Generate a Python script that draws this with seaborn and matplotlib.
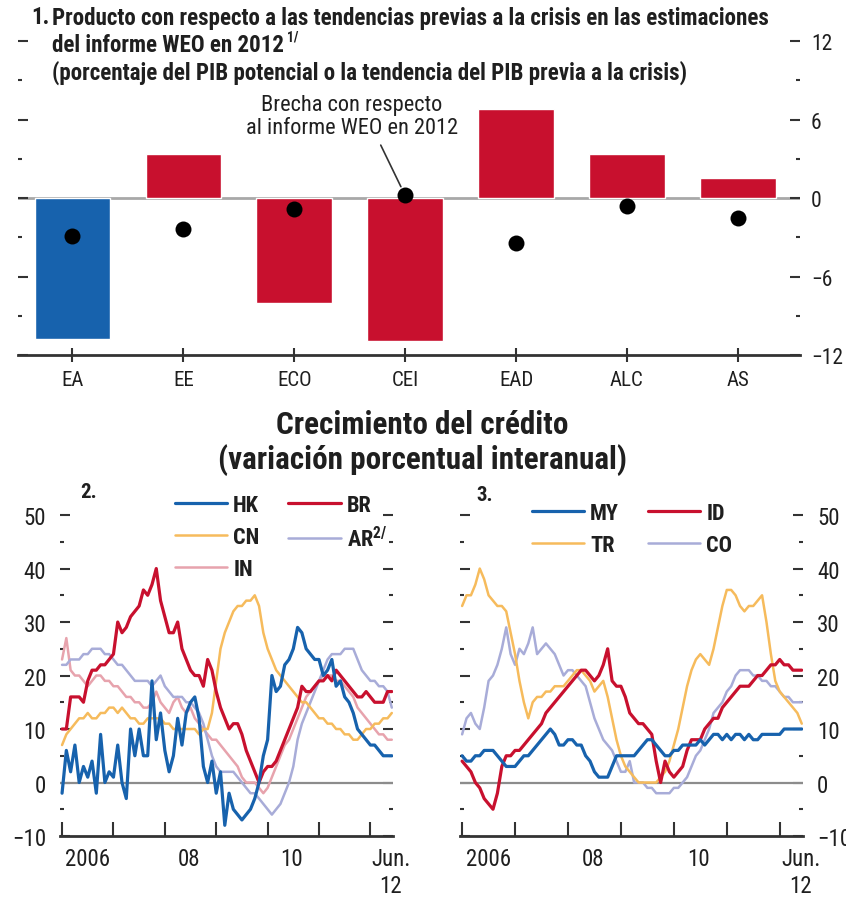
import numpy as np
import pandas as pd
import matplotlib
matplotlib.use("Agg")
import matplotlib.pyplot as plt
from matplotlib import font_manager as fm
from matplotlib.lines import Line2D
from matplotlib.ticker import MultipleLocator, FixedLocator, FixedFormatter, NullFormatter
import seaborn as sns

# ---------------- data ----------------
regions = ["EA", "EE", "ECO", "CEI", "EAD", "ALC", "AS"]
output_vs_trend = [-10.8, 3.4, -8.0, -10.9, 6.8, 3.4, 1.5]
gap_vs_weo2012 = [-2.9, -2.4, -0.8, 0.2, -3.4, -0.6, -1.5]

# monthly credit growth, Jan 2006 - Jun 2012
HK = [-2, 6, 2, 7, 0, 3, 1, 4, -2, 9, 0, 2,
      1, 7, 0, -3, 10, 5, 10, 5, 5, 19, 8, 13,
      6, 2, 5, 12, 7, 13, 15, 16, 12, 3, 0, 4,
      -2, 2, -8, -2, -5, -6, -7, -6, -5, -3, 0, 5,
      8, 20, 17, 18, 22, 23, 25, 29, 28, 25, 24, 23,
      23, 20, 21, 23, 18, 19, 16, 15, 13, 10, 9, 8,
      7, 7, 6, 5, 5, 5]
BR = [10, 10, 16, 16, 16, 15, 19, 21, 21, 22, 22, 23,
      24, 30, 28, 29, 31, 32, 33, 36, 35, 37, 40, 34,
      31, 28, 28, 30, 25, 23, 21, 20, 20, 18, 23, 21,
      17, 14, 12, 10, 11, 11, 9, 6, 4, 2, 0, 2,
      3, 3, 4, 6, 8, 10, 12, 14, 18, 17, 17, 18,
      19, 19, 20, 19, 21, 20, 19, 18, 17, 16, 16, 17,
      16, 15, 15, 15, 17, 17]
CN = [7, 9, 10, 11, 12, 12, 13, 12, 12, 13, 13, 14,
      14, 13, 14, 13, 12, 12, 11, 11, 12, 12, 12, 12,
      11, 11, 10, 10, 10, 10, 10, 10, 9, 10, 10, 13,
      19, 25, 28, 30, 32, 33, 33, 34, 34, 35, 33, 28,
      25, 23, 21, 20, 19, 18, 17, 16, 15, 15, 14, 13,
      12, 12, 11, 11, 10, 10, 9, 9, 8, 8, 9, 10,
      10, 11, 11, 12, 12, 13]
AR = [22, 22, 23, 23, 23, 24, 24, 25, 25, 25, 24, 24,
      23, 22, 22, 21, 20, 19, 19, 19, 19, 18, 19, 20,
      18, 17, 16, 16, 16, 15, 15, 14, 13, 11, 8, 5,
      3, 2, 2, 2, 2, 1, 0, -1, -2, -2, -3, -4,
      -5, -6, -5, -4, -2, 0, 3, 8, 11, 13, 15, 17,
      19, 21, 23, 24, 24, 24, 25, 25, 25, 23, 21, 20,
      19, 19, 18, 18, 17, 14]
IN = [23, 27, 21, 20, 20, 19, 18, 19, 20, 20, 19, 19,
      18, 18, 17, 16, 16, 15, 15, 14, 14, 15, 17, 15,
      14, 13, 15, 16, 14, 13, 14, 12, 11, 10, 9, 8,
      8, 7, 6, 5, 4, 3, 1, 0, 0, 0, -1, -2,
      -1, 1, 3, 5, 7, 8, 10, 12, 14, 16, 17, 18,
      19, 20, 20, 20, 19, 19, 18, 17, 16, 14, 13, 12,
      11, 10, 9, 9, 8, 8]
MY = [5, 4, 4, 5, 5, 6, 6, 6, 5, 4, 3, 3,
      3, 4, 5, 5, 6, 7, 8, 9, 10, 9, 7, 7,
      8, 8, 7, 7, 5, 4, 2, 1, 1, 1, 3, 5,
      5, 5, 5, 5, 6, 7, 8, 8, 7, 6, 5, 5,
      6, 6, 7, 7, 7, 7, 8, 7, 8, 9, 9, 8,
      9, 8, 9, 9, 8, 9, 8, 8, 9, 9, 9, 9,
      9, 10, 10, 10, 10, 10]
ID = [4, 3, 2, 0, -1, -3, -4, -5, -2, 3, 5, 5,
      6, 6, 7, 8, 9, 10, 11, 13, 14, 15, 16, 17,
      18, 19, 20, 21, 21, 20, 19, 20, 22, 25, 19, 18,
      18, 16, 13, 12, 11, 11, 10, 9, 4, 0, 4, 2,
      1, 2, 3, 6, 8, 8, 8, 10, 11, 12, 12, 14,
      15, 16, 17, 18, 18, 18, 19, 20, 20, 21, 22, 22,
      23, 22, 22, 21, 21, 21]
TR = [33, 35, 35, 37, 40, 38, 35, 34, 33, 33, 32, 28,
      24, 19, 15, 12, 15, 16, 16, 17, 17, 18, 18, 18,
      19, 20, 21, 21, 20, 19, 17, 18, 19, 16, 12, 8,
      5, 3, 2, 1, 0, 0, 0, 0, 0, 1, 2, 4,
      7, 10, 14, 18, 21, 23, 24, 23, 22, 25, 29, 33,
      36, 36, 35, 33, 32, 33, 33, 34, 35, 30, 24, 19,
      17, 16, 15, 14, 13, 11]
CO = [9, 12, 13, 11, 10, 14, 19, 20, 22, 25, 29, 24,
      22, 25, 24, 26, 29, 24, 25, 26, 25, 24, 22, 20,
      21, 21, 20, 19, 18, 15, 12, 10, 8, 7, 6, 4,
      2, 2, 4, 0, 0, 0, -1, -1, -2, -2, -2, -2,
      -1, -1, 0, 1, 3, 5, 6, 8, 10, 13, 14, 15,
      17, 18, 20, 21, 21, 21, 20, 20, 19, 19, 18, 18,
      17, 16, 16, 15, 15, 15]

year_ticks = [2006, 2007, 2008, 2009, 2010, 2011, 2012]
year_labels = ["2006", "08", "10", "Jun.\n12"]

# ---------------- style ----------------
BLUE = "#1762ad"
RED = "#c8102e"
ORANGE = "#f6bb5c"
LAVENDER = "#a8acd8"
PINK = "#e7a3ad"
DARK = "#333333"
INK = "#1f1f1f"

sns.set_theme(style="white")

# prefer a narrow sans face; fall back to the closest installed one
names = {f.name for f in fm.fontManager.ttflist}
narrow_faces = ["Roboto Condensed", "Liberation Sans Narrow", "Open Sans Condensed",
                "DejaVu Sans Condensed", "Noto Sans Condensed", "Arial Narrow"]
FAMILY = next((n for n in narrow_faces if n in names), None)
STRETCH = "normal"
if FAMILY is None:
    condensed = [f for f in fm.fontManager.ttflist if f.stretch == "condensed"]
    if condensed:
        FAMILY, STRETCH = condensed[0].name, "condensed"
    else:
        FAMILY = "Liberation Sans" if "Liberation Sans" in names else "DejaVu Sans"
plt.rcParams["font.family"] = [FAMILY, "DejaVu Sans"]
plt.rcParams["font.stretch"] = STRETCH
plt.rcParams["mathtext.default"] = "regular"
plt.rcParams["axes.unicode_minus"] = True

W, H = 846, 904
fig = plt.figure(figsize=(W / 100, H / 100), dpi=100)
renderer = fig.canvas.get_renderer()


def fx(px):
    return px / W


def fy(py):
    return 1 - py / H


def fit_width(artists, target_px):
    """Scale a group of texts so the widest one spans target_px."""
    widest = max(a.get_window_extent(renderer).width for a in artists)
    k = target_px / widest
    for a in artists:
        a.set_fontsize(a.get_fontsize() * k)


def clean_spines(ax):
    for s in ("top", "left", "right"):
        ax.spines[s].set_visible(False)
    ax.spines["bottom"].set_color(DARK)
    ax.spines["bottom"].set_linewidth(2)
    ax.set_xlabel("")
    ax.set_ylabel("")
    ax.grid(False)


TICK1 = 15.5
TICK = 16.5

# ---------------- panel 1: bars + dots ----------------
ax1 = fig.add_axes([fx(18), fy(356), fx(782), 327 / H])
bars = pd.DataFrame({"region": regions, "gap": output_vs_trend, "weo": gap_vs_weo2012})
palette = {r: (BLUE if r == "EA" else RED) for r in regions}
ax1.axhline(0, color="#a8a8a8", lw=2, zorder=0.5)
sns.barplot(data=bars, x="region", y="gap", hue="region", palette=palette,
            width=0.68, saturation=1, legend=False, ax=ax1, zorder=2)
sns.stripplot(data=bars, x="region", y="weo", color="black", size=11.5,
              jitter=False, ax=ax1, zorder=4)
ax1.set_xlim(-0.49, 6.56)
ax1.set_ylim(-12, 13)
ax1.yaxis.set_major_locator(MultipleLocator(6))
ax1.yaxis.set_minor_locator(MultipleLocator(3))
ax1.tick_params(axis="y", which="both", direction="in", left=True, right=True,
                labelleft=False, labelright=True, color=DARK, width=1.5,
                labelsize=TICK1, pad=8, labelcolor=INK)
ax1.tick_params(axis="y", which="major", length=7)
ax1.tick_params(axis="y", which="minor", length=3)
ax1.tick_params(axis="x", direction="inout", length=10, width=1.5, color=DARK,
                bottom=True, labelsize=15, pad=6, labelcolor=INK)
clean_spines(ax1)
note = ax1.annotate("Brecha con respecto\nal informe WEO en 2012",
                    xy=(3, gap_vs_weo2012[3]), xytext=(2.52, 6.25), textcoords="data",
                    ha="center", va="center", fontsize=15, color=INK, linespacing=1.1,
                    arrowprops=dict(arrowstyle="-", color=DARK, lw=1.2, relpos=(0.62, 0),
                                    shrinkA=3, shrinkB=7))
fit_width([note], 212)

title_kw = dict(fontsize=15, weight="bold", va="center", color=INK)
num1 = fig.text(fx(31), fy(18), "1.", **title_kw)
t1 = fig.text(fx(52), fy(18), "Producto con respecto a las tendencias previas a la crisis en las estimaciones", **title_kw)
t2 = fig.text(fx(52), fy(45), "del informe WEO en 2012", **title_kw)
t3 = fig.text(fx(52), fy(73), "(porcentaje del PIB potencial o la tendencia del PIB previa a la crisis)", **title_kw)
fit_width([t1, t2, t3], 718)
num1.set_fontsize(t1.get_fontsize())
sup1 = fig.text(t2.get_window_extent(renderer).x1 / W + fx(3), fy(38), "1/",
                fontsize=t2.get_fontsize() * 0.6, weight="bold", va="center", color=INK)

m1 = fig.text(0.499, fy(425), "Crecimiento del crédito", ha="center", va="center",
              fontsize=19, weight="bold", color=INK)
m2 = fig.text(0.499, fy(460), "(variación porcentual interanual)", ha="center", va="center",
              fontsize=19, weight="bold", color=INK)
fit_width([m1, m2], 408)

# ---------------- panels 2 and 3: credit growth lines ----------------
t = np.arange(len(HK)) / 12 + 2006


def line_panel(ax, series, label_side):
    frame = pd.DataFrame({"t": np.tile(t, len(series)),
                          "value": np.concatenate([s[1] for s in series]),
                          "country": np.repeat([s[0] for s in series], len(t))})
    ax.axhline(0, color="#8c8c8c", lw=1.6, zorder=1)
    for name, _, color, lw in series:
        sns.lineplot(data=frame[frame["country"] == name], x="t", y="value",
                     color=color, linewidth=lw, ax=ax, zorder=3)
    ax.set_xlim(2005.96, 2012.44)
    ax.set_ylim(-10, 53)
    ax.yaxis.set_major_locator(MultipleLocator(10))
    ax.yaxis.set_minor_locator(MultipleLocator(5))
    ax.tick_params(axis="y", which="both", direction="in", left=True, right=True,
                   labelleft=(label_side == "left"), labelright=(label_side == "right"),
                   color=DARK, width=1.5, labelsize=TICK, pad=10, labelcolor=INK)
    ax.tick_params(axis="y", which="major", length=7)
    ax.tick_params(axis="y", which="minor", length=3)
    ax.xaxis.set_major_locator(FixedLocator(year_ticks))
    ax.xaxis.set_major_formatter(NullFormatter())
    ax.xaxis.set_minor_locator(FixedLocator([2006.5, 2008.47, 2010.47, 2012.4]))
    ax.xaxis.set_minor_formatter(FixedFormatter(year_labels))
    ax.tick_params(axis="x", which="major", direction="in", length=10, width=1.5,
                   color=DARK, bottom=True)
    ax.tick_params(axis="x", which="minor", length=0, pad=8, labelsize=TICK,
                   labelcolor=INK, bottom=True)
    clean_spines(ax)


ax2 = fig.add_axes([fx(60), fy(837), fx(333), 337 / H])
panel2 = [("IN", IN, PINK, 1.8), ("AR", AR, LAVENDER, 1.8), ("CN", CN, ORANGE, 1.8),
          ("BR", BR, RED, 2.3), ("HK", HK, BLUE, 2.3)]
line_panel(ax2, panel2, "left")

ax3 = fig.add_axes([fx(460), fy(837), fx(343), 337 / H])
panel3 = [("CO", CO, LAVENDER, 1.8), ("TR", TR, ORANGE, 1.8),
          ("ID", ID, RED, 2.3), ("MY", MY, BLUE, 2.3)]
line_panel(ax3, panel3, "right")


def make_legend(ax, entries, anchor):
    handles = [Line2D([], [], color=c, lw=lw) for _, c, lw in entries]
    labels = [n for n, _, _ in entries]
    leg = ax.legend(handles, labels, ncol=2, loc="upper left", bbox_to_anchor=anchor,
                    bbox_transform=fig.transFigure, frameon=False, handlelength=2.35,
                    handletextpad=0.27, columnspacing=1.3, labelspacing=0.45,
                    fontsize=16, borderpad=0, borderaxespad=0)
    for txt in leg.get_texts():
        txt.set_color(INK)
        txt.set_weight("bold")


make_legend(ax2, [("HK", BLUE, 2.3), ("CN", ORANGE, 1.8), ("IN", PINK, 1.8),
                  ("BR", RED, 2.3), ("AR$^{2/}$", LAVENDER, 1.8)], (fx(175), fy(495)))
make_legend(ax3, [("MY", BLUE, 2.3), ("TR", ORANGE, 1.8),
                  ("ID", RED, 2.3), ("CO", LAVENDER, 1.8)], (fx(532), fy(503)))

fig.text(fx(80), fy(493), "2.", fontsize=15, weight="bold", va="center", color=INK)
fig.text(fx(476), fy(496), "3.", fontsize=15, weight="bold", va="center", color=INK)

fig.savefig("out.png", dpi=100)
